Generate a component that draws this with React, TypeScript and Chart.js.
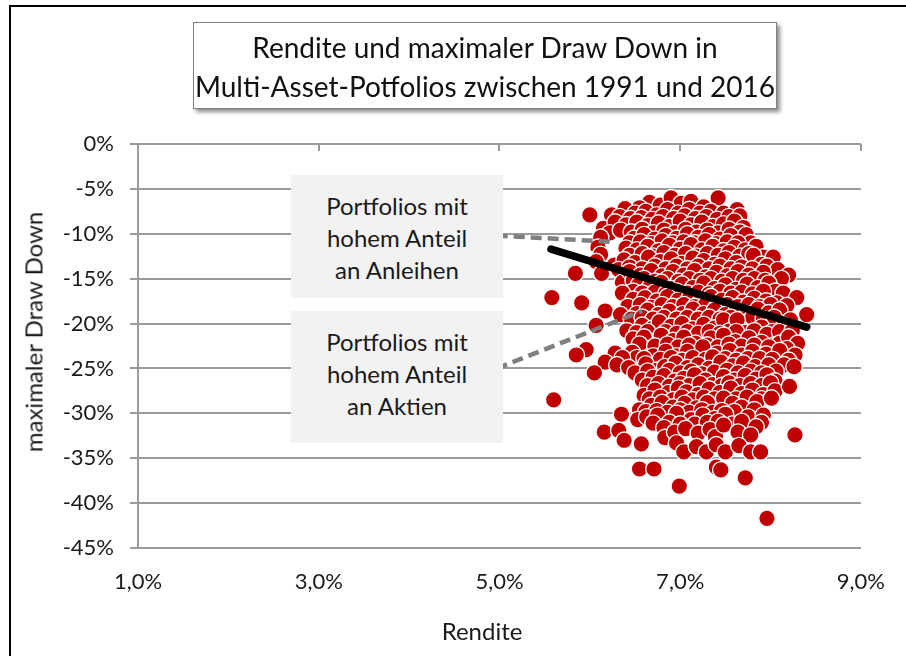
import React, { useEffect, useRef } from "react";
import { Chart, registerables } from "chart.js";

Chart.register(...registerables);

// Portfolio results: [Rendite in %, maximaler Draw Down in %]
const portfolios: [number, number][] = [
  [6.66, -6.5], [6.78, -6.8], [6.90, -6.0], [7.01, -6.6], [7.12, -6.4], [7.26, -7.0], [7.42, -6.0], [6.55, -7.1],
  [6.00, -7.9], [6.24, -7.9], [6.39, -7.2], [6.50, -7.7], [6.62, -7.5], [6.74, -7.9], [6.86, -7.3], [6.98, -7.7],
  [7.10, -7.3], [7.22, -7.7], [7.34, -7.5], [7.48, -7.7], [7.63, -7.3],
  [6.33, -8.1], [6.45, -8.3], [6.57, -8.2], [6.69, -8.4], [6.81, -8.1], [6.93, -8.3], [7.05, -8.0], [7.17, -8.3],
  [7.29, -8.1], [7.41, -8.4], [7.54, -8.1], [7.66, -8.0],
  [6.15, -9.4], [6.28, -8.7], [6.40, -9.0], [6.52, -8.7], [6.64, -9.1], [6.76, -8.8], [6.88, -9.2], [7.00, -8.6],
  [7.12, -9.0], [7.24, -8.7], [7.36, -9.2], [7.48, -8.9], [7.60, -8.6], [7.70, -9.3],
  [6.22, -9.9], [6.34, -9.6], [6.46, -9.8], [6.58, -9.5], [6.70, -9.9], [6.82, -9.6], [6.94, -9.9], [7.06, -9.5],
  [7.18, -9.8], [7.30, -9.6], [7.42, -9.9], [7.54, -9.5], [7.66, -9.8],
  [6.12, -10.4], [6.49, -10.5], [6.60, -10.1], [6.72, -10.6], [6.84, -10.2], [6.96, -10.5], [7.08, -10.0],
  [7.20, -10.4], [7.32, -10.1], [7.44, -10.6], [7.56, -10.2], [7.73, -10.1], [7.78, -11.0],
  [6.44, -11.0], [6.56, -10.9], [6.68, -11.1], [6.80, -10.8], [6.92, -11.0], [7.04, -10.9], [7.16, -11.0],
  [7.28, -10.8], [7.40, -11.1], [7.52, -10.9], [7.64, -11.0],
  [6.09, -11.5], [6.40, -11.6], [6.52, -11.8], [6.64, -11.4], [6.76, -11.9], [6.88, -11.3], [7.00, -11.7],
  [7.12, -11.2], [7.24, -11.8], [7.36, -11.4], [7.48, -11.9], [7.60, -11.5], [7.72, -11.8], [7.84, -11.4],
  [6.12, -12.3], [6.44, -12.4], [6.58, -12.2], [6.70, -12.5], [6.82, -12.1], [6.94, -12.4], [7.06, -12.2],
  [7.18, -12.5], [7.30, -12.2], [7.42, -12.4], [7.54, -12.1], [7.66, -12.5], [7.76, -12.2], [7.92, -12.6],
  [6.07, -13.1], [6.27, -13.5], [6.38, -12.9], [6.50, -13.2], [6.65, -12.6], [6.78, -13.1], [6.90, -12.8],
  [7.02, -13.3], [7.14, -12.7], [7.26, -13.0], [7.38, -13.4], [7.50, -12.8], [7.62, -13.2], [7.81, -12.4],
  [7.90, -13.4], [8.03, -12.6],
  [6.32, -14.0], [6.44, -13.7], [6.58, -13.9], [6.72, -13.6], [6.84, -13.9], [6.96, -13.6], [7.08, -13.9],
  [7.20, -13.6], [7.32, -13.9], [7.44, -13.6], [7.56, -13.9], [7.68, -13.7], [7.80, -13.9], [7.96, -13.6],
  [8.08, -14.0],
  [5.84, -14.4], [6.13, -14.4], [6.36, -15.4], [6.44, -14.2], [6.56, -14.6], [6.68, -14.1], [6.80, -14.7],
  [6.92, -14.2], [7.04, -14.6], [7.16, -14.1], [7.28, -14.8], [7.40, -14.3], [7.52, -14.7], [7.64, -14.2],
  [7.76, -14.6], [7.92, -14.3], [8.08, -15.4], [8.20, -14.6],
  [6.48, -15.2], [6.60, -15.0], [6.72, -15.3], [6.86, -15.0], [6.98, -15.3], [7.10, -15.0], [7.22, -15.2],
  [7.34, -15.0], [7.46, -15.3], [7.58, -15.0], [7.70, -15.2], [7.82, -15.0], [7.94, -15.2], [8.12, -15.0],
  [6.54, -15.7], [6.79, -15.4], [6.66, -16.0], [6.90, -16.1], [7.02, -15.6], [7.14, -16.0], [7.26, -15.5],
  [7.38, -16.1], [7.50, -15.7], [7.62, -16.2], [7.74, -15.6], [7.86, -16.0], [7.98, -15.5], [8.05, -16.4],
  [6.48, -16.4], [6.58, -16.6], [6.72, -16.5], [6.84, -16.7], [6.96, -16.4], [7.08, -16.6], [7.20, -16.5],
  [7.32, -16.7], [7.44, -16.4], [7.56, -16.6], [7.68, -16.5], [7.80, -16.7], [7.92, -16.4], [8.14, -16.6],
  [5.58, -17.1], [5.91, -17.7], [6.36, -16.6], [6.48, -17.3], [6.61, -17.1], [6.74, -17.5], [6.86, -17.0],
  [6.98, -17.4], [7.10, -17.2], [7.22, -17.6], [7.34, -17.0], [7.46, -17.4], [7.58, -17.1], [7.70, -17.6],
  [7.82, -17.2], [7.95, -17.5], [8.07, -17.7], [8.29, -17.1],
  [6.42, -18.1], [6.56, -17.9], [6.68, -18.2], [6.80, -17.9], [6.92, -18.1], [7.04, -17.9], [7.16, -18.1],
  [7.28, -17.9], [7.40, -18.2], [7.52, -17.9], [7.64, -18.1], [7.76, -17.9], [7.88, -18.1], [8.00, -17.9],
  [8.18, -18.0],
  [6.17, -18.6], [6.34, -19.0], [6.52, -18.9], [6.64, -18.5], [6.76, -19.0], [6.88, -18.6], [7.03, -18.9],
  [7.14, -18.4], [7.26, -18.9], [7.38, -18.5], [7.50, -19.0], [7.62, -18.6], [7.74, -18.9], [7.86, -18.4],
  [7.98, -18.8], [8.10, -18.5], [8.40, -19.0],
  [6.46, -19.5], [6.58, -19.3], [6.70, -19.5], [6.82, -19.3], [6.96, -19.5], [7.08, -19.3], [7.20, -19.5],
  [7.32, -19.3], [7.44, -19.5], [7.56, -19.3], [7.68, -19.5], [7.80, -19.3], [7.92, -19.5], [8.04, -19.3],
  [8.22, -19.6],
  [6.07, -20.2], [6.41, -20.8], [6.58, -20.2], [6.70, -20.5], [6.77, -19.8], [6.90, -20.3], [7.02, -20.0],
  [7.14, -20.6], [7.26, -20.1], [7.38, -20.5], [7.48, -19.6], [7.55, -20.8], [7.63, -19.6], [7.72, -21.0],
  [7.90, -20.4], [8.02, -20.9], [8.15, -20.2],
  [6.52, -21.0], [6.64, -20.9], [6.84, -20.9], [6.96, -21.1], [7.08, -20.9], [7.20, -21.1], [7.32, -20.9],
  [7.44, -21.1], [7.62, -20.9], [7.82, -20.8], [7.96, -21.2], [8.10, -20.9], [8.24, -20.8],
  [6.48, -21.7], [6.60, -21.5], [6.63, -22.8], [6.79, -21.3], [6.92, -21.9], [7.04, -21.5], [7.17, -22.2],
  [7.34, -21.6], [7.48, -21.3], [7.61, -22.0], [7.76, -21.6], [7.90, -22.1], [8.04, -22.4], [8.10, -22.2],
  [8.20, -21.5], [8.30, -22.2],
  [6.55, -22.3], [6.72, -22.5], [6.86, -22.3], [6.98, -22.6], [7.10, -22.4], [7.30, -22.4], [7.42, -22.6],
  [7.54, -22.3], [7.68, -22.5], [7.82, -22.4], [7.98, -22.6], [8.18, -22.8],
  [5.96, -22.9], [5.85, -23.5], [6.28, -23.3], [6.47, -23.2], [6.52, -23.8], [6.70, -23.6], [6.84, -23.1],
  [6.96, -23.6], [7.08, -23.1], [7.25, -22.6], [7.41, -23.3], [7.55, -23.0], [7.68, -23.5], [7.80, -23.1],
  [7.95, -23.4], [8.10, -23.0], [8.27, -23.5],
  [6.36, -23.8], [6.60, -23.9], [6.78, -24.0], [6.90, -23.8], [7.02, -24.1], [7.14, -23.8], [7.28, -24.0],
  [7.36, -23.7], [7.50, -23.9], [7.62, -24.1], [7.75, -23.9], [7.88, -23.9], [8.02, -24.0], [8.20, -24.1],
  [6.17, -24.3], [6.30, -24.6], [6.43, -24.9], [6.62, -24.5], [6.74, -25.2], [6.83, -24.8], [6.95, -24.4],
  [7.08, -24.9], [7.20, -24.6], [7.32, -25.0], [7.45, -24.3], [7.58, -24.7], [7.70, -24.4], [7.83, -24.8],
  [7.98, -24.6], [8.15, -24.6], [8.26, -24.8],
  [6.50, -25.5], [6.64, -25.3], [6.88, -25.2], [7.00, -25.5], [7.12, -25.3], [7.24, -25.6], [7.38, -25.4],
  [7.52, -25.2], [7.64, -25.5], [7.78, -25.3], [7.90, -25.5], [8.06, -25.3],
  [6.05, -25.5], [6.58, -26.3], [6.70, -26.0], [6.82, -25.8], [6.94, -26.4], [7.04, -26.1], [7.16, -25.7],
  [7.28, -26.3], [7.36, -26.8], [7.48, -25.9], [7.60, -26.3], [7.72, -25.8], [7.84, -26.2], [7.96, -25.7],
  [8.05, -26.4],
  [6.64, -26.9], [6.76, -26.7], [6.88, -27.0], [7.00, -26.7], [7.10, -26.9], [7.22, -26.7], [7.46, -26.9],
  [7.54, -26.6], [7.66, -26.9], [7.78, -26.7], [7.90, -26.9], [8.00, -26.6],
  [6.60, -28.0], [6.72, -27.4], [6.87, -27.7], [6.98, -27.2], [7.07, -27.6], [7.20, -27.9], [7.32, -27.3],
  [7.44, -27.7], [7.56, -27.2], [7.68, -27.8], [7.80, -27.4], [7.92, -27.9], [8.05, -27.5], [8.21, -27.0],
  [6.66, -28.4], [6.78, -28.2], [6.92, -28.5], [7.02, -28.2], [7.14, -28.5], [7.26, -28.2], [7.38, -28.4],
  [7.62, -28.4], [7.74, -28.2], [7.90, -28.4],
  [5.60, -28.5], [6.55, -29.6], [6.68, -29.1], [6.80, -28.8], [6.92, -29.3], [7.05, -28.9], [7.18, -29.4],
  [7.30, -28.8], [7.48, -28.3], [7.58, -28.9], [7.68, -29.3], [7.85, -28.7], [8.01, -28.3],
  [6.62, -29.8], [6.74, -29.7], [6.86, -29.9], [7.00, -29.6], [7.10, -29.9], [7.24, -29.6], [7.36, -29.9],
  [7.46, -29.7], [7.60, -29.8], [7.82, -29.6],
  [6.35, -30.1], [6.53, -30.7], [6.63, -30.4], [6.75, -30.2], [6.96, -30.0], [7.12, -30.7], [7.25, -30.2],
  [7.38, -30.6], [7.50, -30.1], [7.75, -30.4], [7.92, -30.2], [7.90, -31.0],
  [6.70, -31.1], [6.88, -31.0], [7.00, -31.2], [7.16, -31.2], [7.30, -31.0], [7.42, -30.9], [7.58, -31.2],
  [7.68, -30.9], [7.84, -31.5],
  [6.16, -32.1], [6.32, -31.9], [6.38, -33.0], [6.82, -31.6], [6.83, -32.7], [6.94, -32.1], [7.06, -31.7],
  [7.20, -32.2], [7.33, -31.8], [7.39, -32.6], [7.48, -31.3], [7.64, -32.1], [7.78, -32.4], [8.27, -32.4],
  [6.57, -33.4], [6.96, -33.3], [7.04, -34.3], [7.18, -33.7], [7.29, -34.3], [7.40, -33.5], [7.50, -34.3],
  [7.65, -33.6], [7.78, -34.3], [7.89, -34.3],
  [6.55, -36.2], [6.71, -36.2], [7.40, -36.0], [7.45, -36.3], [7.72, -37.2], [6.99, -38.1], [7.96, -41.7],
];

const trendLine: [number, number][] = [[5.57, -11.7], [8.40, -20.4]];
const bondConnector: [number, number][] = [[4.97, -10.2], [6.26, -10.9]];
const equityConnector: [number, number][] = [[4.97, -25.0], [6.58, -18.6]];

const xTicks = [1, 3, 5, 7, 9];
const yMin = -45;
const yMax = 0;
const yStep = 5;

const title = ["Rendite und maximaler Draw Down in", "Multi-Asset-Potfolios zwischen 1991 und 2016"];
const bondLabel = ["Portfolios mit", "hohem Anteil", "an Anleihen"];
const equityLabel = ["Portfolios mit", "hohem Anteil", "an Aktien"];
const xTitle = "Rendite";
const yTitle = "maximaler Draw Down";

const FONT = "Lato, 'Open Sans', sans-serif";
const GRID = "#9a9a9a";

const toXY = (arr: [number, number][]) => arr.map(([x, y]) => ({ x, y }));

const topTicks = {
  id: "topTicks",
  beforeDatasetsDraw(chart: any) {
    const { ctx, chartArea, scales } = chart;
    ctx.save();
    ctx.strokeStyle = GRID;
    ctx.lineWidth = 2;
    xTicks.forEach((t) => {
      const px = Math.round(scales.x.getPixelForValue(t));
      ctx.beginPath();
      ctx.moveTo(px, chartArea.top);
      ctx.lineTo(px, chartArea.top + 7);
      ctx.stroke();
    });
    ctx.restore();
  },
};

export default function App() {
  const ref = useRef<HTMLCanvasElement>(null);

  useEffect(() => {
    if (!ref.current) return;
    const chart = new Chart(ref.current, {
      type: "scatter",
      data: {
        datasets: [
          {
            type: "line",
            data: toXY(trendLine),
            borderColor: "#000000",
            borderWidth: 7.5,
            borderCapStyle: "round",
            pointRadius: 0,
            order: 0,
          } as any,
          {
            type: "line",
            data: toXY(bondConnector),
            borderColor: "#7f7f7f",
            borderWidth: 4.5,
            borderDash: [11, 6],
            pointRadius: 0,
            order: 1,
          } as any,
          {
            type: "line",
            data: toXY(equityConnector),
            borderColor: "#7f7f7f",
            borderWidth: 4.5,
            borderDash: [11, 6],
            pointRadius: 0,
            order: 1,
          } as any,
          {
            data: toXY(portfolios),
            backgroundColor: "#C00000",
            borderColor: "#ffffff",
            borderWidth: 1.4,
            pointRadius: 8.3,
            order: 3,
          },
        ],
      },
      options: {
        responsive: false,
        animation: false,
        events: [],
        layout: { padding: { top: 144, right: 34, bottom: 0, left: 0 } },
        plugins: { legend: { display: false }, tooltip: { enabled: false }, title: { display: false } },
        scales: {
          x: {
            type: "linear",
            position: "bottom",
            min: 1,
            max: 9,
            afterFit: (s: any) => {
              s.height = 108;
            },
            afterBuildTicks: (s: any) => {
              s.ticks = xTicks.map((v) => ({ value: v }));
            },
            ticks: {
              padding: 21,
              font: { family: FONT, size: 22 },
              color: "#1a1a1a",
              maxRotation: 0,
              callback: (v: any) => Number(v).toFixed(1).replace(".", ",") + "%",
            },
            grid: { display: false, drawTicks: false },
            border: { display: true, color: GRID, width: 2 },
          },
          y: {
            type: "linear",
            min: yMin,
            max: yMax,
            afterFit: (s: any) => {
              s.width = 138;
            },
            ticks: {
              stepSize: yStep,
              padding: 16,
              font: { family: FONT, size: 22 },
              color: "#1a1a1a",
              callback: (v: any) => `${Number(v)}%`,
            },
            grid: { color: GRID, lineWidth: 2, tickLength: 8, drawTicks: true },
            border: { display: true, color: GRID, width: 2 },
          },
        },
      },
      plugins: [topTicks],
    });
    return () => chart.destroy();
  }, []);

  const boxText: React.CSSProperties = {
    position: "absolute",
    background: "#f2f2f2",
    display: "flex",
    flexDirection: "column",
    alignItems: "center",
    justifyContent: "center",
    fontFamily: FONT,
    fontSize: 24,
    lineHeight: "32px",
    color: "#1a1a1a",
  };

  return (
    <div style={{ position: "absolute", left: 0, top: 0, width: 906, height: 656, overflow: "hidden", background: "#fff" }}>
      <canvas ref={ref} width={906} height={656} style={{ position: "absolute", left: 0, top: 0 }} />
      <div
        style={{
          position: "absolute",
          left: 193,
          top: 22,
          width: 582,
          height: 82,
          border: "1px solid #7f7f7f",
          background: "#fff",
          boxShadow: "3px 3px 4px rgba(0,0,0,0.45)",
          display: "flex",
          flexDirection: "column",
          alignItems: "center",
          justifyContent: "center",
          fontFamily: FONT,
          fontSize: 28,
          lineHeight: "39px",
          color: "#111",
          paddingTop: 3,
          boxSizing: "content-box",
        }}
      >
        {title.map((t) => (
          <div key={t}>{t}</div>
        ))}
      </div>
      <div style={{ ...boxText, left: 291, top: 175, width: 212, height: 123, paddingTop: 3, boxSizing: "border-box" }}>
        {bondLabel.map((t) => (
          <div key={t}>{t}</div>
        ))}
      </div>
      <div style={{ ...boxText, left: 291, top: 311, width: 212, height: 132, boxSizing: "border-box", paddingBottom: 6 }}>
        {equityLabel.map((t) => (
          <div key={t}>{t}</div>
        ))}
      </div>
      <div
        style={{
          position: "absolute",
          left: 33,
          top: 332,
          transform: "translate(-50%, -50%) rotate(-90deg)",
          whiteSpace: "nowrap",
          fontFamily: FONT,
          fontSize: 24,
          color: "#1a1a1a",
        }}
      >
        {yTitle}
      </div>
      <div
        style={{
          position: "absolute",
          left: 482,
          top: 630,
          transform: "translate(-50%, -50%)",
          whiteSpace: "nowrap",
          fontFamily: FONT,
          fontSize: 24,
          color: "#1a1a1a",
        }}
      >
        {xTitle}
      </div>
      <div
        style={{
          position: "absolute",
          left: 9,
          top: 5,
          width: 1200,
          height: 1200,
          border: "2px solid #000",
          pointerEvents: "none",
        }}
      />
    </div>
  );
}
